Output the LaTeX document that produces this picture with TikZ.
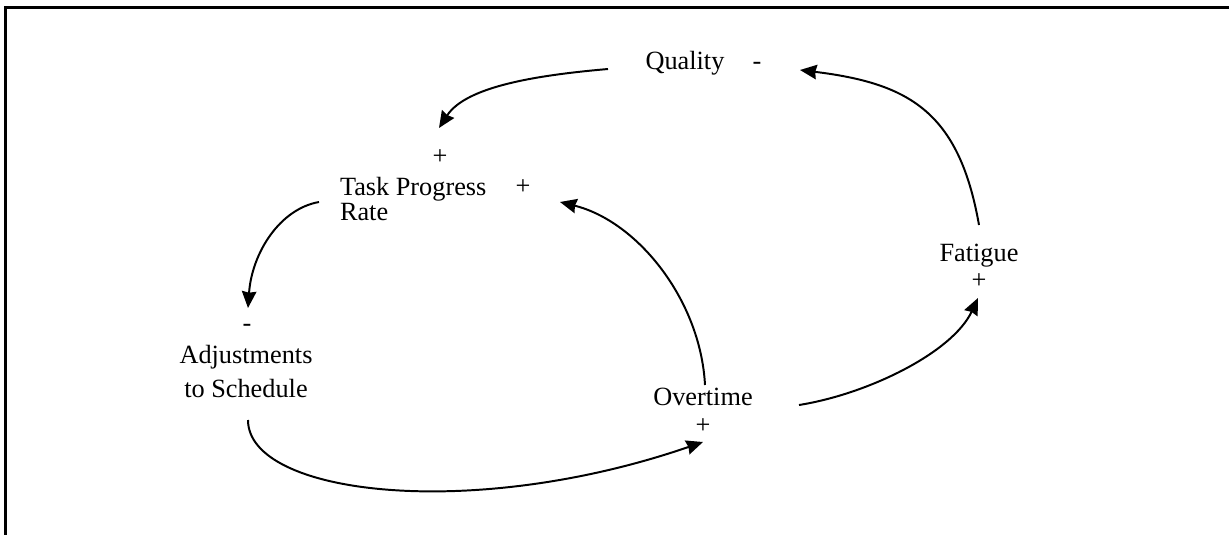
\documentclass[tikz,border=0pt]{standalone}
\usepackage{fontspec}
\setmainfont{Liberation Serif}
\usepackage{tikz}
\usetikzlibrary{arrows.meta, positioning}

\begin{document}
\begin{tikzpicture}[x=0.4563pt, y=0.4563pt,
        every node/.style={inner sep=0pt, outer sep=0pt, font=\fontsize{12}{14.4}\selectfont},
        var/.style={anchor=base},
        pol/.style={anchor=base},
        link/.style={line width=0.9pt, -{Stealth[length=7.6pt, width=6.6pt, inset=0.6pt]}}]
        \useasboundingbox (0, 0) rectangle (1229, 535);
        % Frame
        \draw [line width=1pt] (1229, 527.5) -- (5.5, 527.5) -- (5.5, 0);
        % Variables
        \node [var] (quality) at (685, 465) {Quality};
        \node [var, align=left, anchor=north west] (tpr) at (340, 358) {Task Progress\\[-3pt]Rate};
        \node [var, align=center, anchor=north] (adj) at (246, 190) {Adjustments\\[1.1pt]to Schedule};
        \node [var] (overtime) at (703, 130) {Overtime};
        \node [var] (fatigue) at (979, 274) {Fatigue};
        % Signs
        \node [pol] (qualitysign) at (757, 465) {-};
        \node [pol] (tprtop) at (440, 370) {+};
        \node [pol] (tprright) at (523, 340) {+};
        \node [pol] (adjsign) at (247, 203) {-};
        \node [pol] (overtimesign) at (703, 102) {+};
        \node [pol] (fatiguesign) at (979, 246) {+};
        % Links
        \draw [link] ([shift={(-77, 1)}]quality.base) .. controls +(185:70) and +(57:50) .. ([shift={(-1, 37)}]tprtop.base);
        \draw [link] ([shift={(-21, -25)}]tpr.north west) .. controls +(190:40) and +(86:55) .. ([shift={(1, 24)}]adjsign.base);
        \draw [link] ([shift={(2, -75)}]adj.north) .. controls +(270:75) and +(199:245) .. ([shift={(0, -9)}]overtimesign.base);
        \draw [link] ([shift={(2, 20)}]overtime.base) .. controls +(93:85) and +(346:80) .. ([shift={(37, -7)}]tprright.base);
        \draw [link] ([shift={(0, 36)}]fatigue.base) .. controls +(100:115) and +(353:110) .. ([shift={(43, 0)}]qualitysign.base);
        \draw [link] ([shift={(96, 0)}]overtime.base) .. controls +(9:70) and +(245:60) .. ([shift={(-1, -9)}]fatiguesign.base);
\end{tikzpicture}
\end{document}
